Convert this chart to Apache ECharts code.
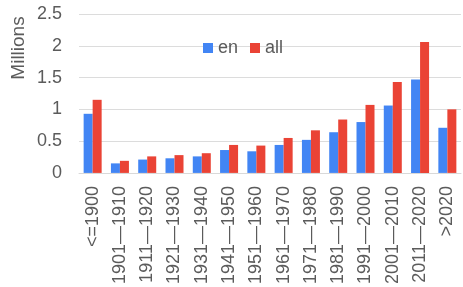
<!DOCTYPE html>
<html>
<head>
<meta charset="utf-8">
<script src="https://cdn.jsdelivr.net/npm/echarts@6/dist/echarts.min.js"></script>
<style>
  html, body { margin: 0; padding: 0; background: #fff; }
  #main { width: 463px; height: 287px; }
</style>
</head>
<body>
<div id="main"></div>
<script>
// decades
var categories = ['<=1900', '1901—1910', '1911—1920', '1921—1930', '1931—1940', '1941—1950',
  '1951—1960', '1961—1970', '1971—1980', '1981—1990', '1991—2000', '2001—2010', '2011—2020', '>2020'];
// values in millions
var enValues = [0.93, 0.15, 0.21, 0.23, 0.26, 0.36, 0.34, 0.44, 0.52, 0.64, 0.80, 1.06, 1.47, 0.71];
var allValues = [1.15, 0.19, 0.26, 0.28, 0.31, 0.44, 0.43, 0.55, 0.67, 0.84, 1.07, 1.43, 2.06, 1.00];
var yTicks = [0, 0.5, 1, 1.5, 2, 2.5];

var textColor = '#5b5b5b';
var fontFamily = '"Liberation Sans", Arial, sans-serif';

var chart = echarts.init(document.getElementById('main'));
var option = {
  animation: false,
  textStyle: { fontFamily: fontFamily },
  grid: { left: 79, right: 2, top: 14, bottom: 113, containLabel: false },
  legend: {
    left: 203,
    top: 39,
    padding: 0,
    itemWidth: 10,
    itemHeight: 10,
    itemGap: 12,
    icon: 'rect',
    textStyle: { color: textColor, fontSize: 18 },
    data: ['en', 'all']
  },
  graphic: [{
    type: 'text',
    x: 19,
    y: 48,
    rotation: Math.PI / 2,
    style: {
      text: 'Millions',
      fill: textColor,
      font: '19px ' + fontFamily,
      align: 'center',
      verticalAlign: 'middle'
    }
  }],
  xAxis: {
    type: 'category',
    data: categories,
    axisLine: { lineStyle: { color: '#d9d9d9', width: 1 } },
    axisTick: { show: false },
    axisLabel: { rotate: 90, interval: 0, color: textColor, fontSize: 18, margin: 13 }
  },
  yAxis: {
    type: 'value',
    min: yTicks[0],
    max: yTicks[yTicks.length - 1],
    interval: 0.5,
    axisLine: { show: false },
    axisTick: { show: false },
    splitLine: { lineStyle: { color: '#dcdcdc', width: 1 } },
    axisLabel: { color: textColor, fontSize: 18, margin: 17 }
  },
  series: [
    {
      name: 'en',
      type: 'bar',
      data: enValues,
      barGap: '0%',
      barCategoryGap: '34%',
      itemStyle: { color: '#4285F4' }
    },
    {
      name: 'all',
      type: 'bar',
      data: allValues,
      itemStyle: { color: '#EA4335' }
    }
  ]
};
chart.setOption(option);
</script>
</body>
</html>
